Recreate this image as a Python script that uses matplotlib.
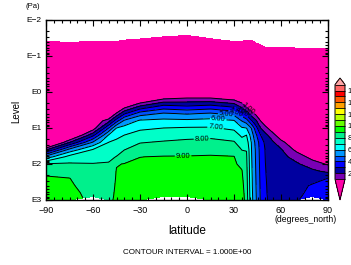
import numpy as np
import matplotlib
matplotlib.use("Agg")
import matplotlib.pyplot as plt
from matplotlib.colors import ListedColormap
from matplotlib.ticker import FixedLocator, MultipleLocator, FixedFormatter

plt.rcParams['font.family'] = ['Liberation Sans', 'DejaVu Sans']

# ---- data ----
lats = [-90, -75, -60, -50, -45, -40, -30, -15, 0, 15, 30, 35, 38, 41, 44, 47, 50, 55, 60, 70, 80, 90]
# log10(pressure / Pa) of the top of valid data for each latitude column
top_logp = [-1.40, -1.38, -1.40, -1.40, -1.40, -1.44, -1.47, -1.53, -1.57, -1.48, -1.40,
            -1.40, -1.44, -1.44, -1.36, -1.30, -1.24, -1.24, -1.24, -1.22, -1.20, -1.22]
# log10(pressure / Pa) of the remaining grid rows
row_logp = [-0.6, 0.0, 0.2, 0.4, 0.6, 0.8, 1.0, 1.2, 1.4, 1.6, 1.8, 2.0, 2.2, 2.4, 2.6, 2.8, 2.9, 3.0]

# field values per latitude column (top row first, then row_logp order)
col_m90 = [0, 0, 0, 0, 0, 0, 0, 0, 0, -1.8, 1.8, 5.4, 8.1, 8.8, 9.1, 9.3, 9.4, 9.5, 9.6]
col_m75 = [0, 0, 0, 0, 0, 0, 0, 0, -0.9, 1.96, 5.3, 7.4, 8.1, 8.6, 9.02, 9.15, 9.3, 9.35, 9.4]
col_m60 = [0, 0, 0, 0, 0, 0, 0, 0.33, 2.73, 5.13, 7.05, 7.6, 8.04, 8.2, 8.35, 8.5, 8.65, 8.7, np.nan]
col_m50 = [0, 0, 0, 0, 0, -0.8, 1.6, 4.0, 6.1, 7.02, 7.4, 7.8, 8.07, 8.2, 8.3, 8.45, 8.57, 8.63, 8.7]
col_m45 = [0, 0, 0, 0, -1.2, 1.2, 3.6, 6.0, 6.7, 7.24, 7.64, 8.03, 8.95, 9.05, 9.1, 9.15, 9.2, 9.22, 9.25]
col_m40 = [0, 0, 0, 0, 0.47, 2.87, 5.2, 6.36, 7.01, 7.49, 7.97, 8.57, 9.03, 9.15, 9.26, 9.37, 9.49, 9.55, 9.6]
col_m30 = [0, 0, 0, -0.3, 2.13, 4.53, 6.16, 6.82, 7.4, 7.95, 8.47, 8.99, 9.11, 9.23, 9.34, 9.46, 9.58, 9.64, 9.7]
col_m15 = [0, 0, -1.0, 1.07, 3.35, 5.12, 6.28, 7.0, 7.55, 8.1, 8.61, 9.04, 9.14, 9.26, 9.37, 9.47, 9.58, 9.64, np.nan]
col_0 = [0, 0, -0.5, 1.3, 3.1, 4.9, 6.23, 7.08, 7.68, 8.23, 8.71, 9.04, 9.15, 9.26, 9.37, 9.48, 9.59, 9.65, np.nan]
col_15 = [0, 0, -0.5, 1.3, 3.35, 5.12, 6.35, 7.09, 7.75, 8.29, 8.78, 9.06, 9.16, 9.27, 9.38, 9.48, 9.59, 9.65, 9.7]
col_30 = [0, 0, 0, 0.78, 2.8, 4.65, 6.08, 6.8, 7.47, 8.1, 8.61, 9.03, 9.13, 9.24, 9.36, 9.47, 9.59, 9.65, 9.7]
col_35 = [0, 0, 0, 0.23, 1.68, 3.4, 4.96, 6.1, 6.82, 7.42, 7.97, 8.38, 8.78, 9.06, 9.19, 9.33, 9.46, 9.53, 9.6]
col_38 = [0, 0, 0, 0, 0.85, 2.65, 4.45, 6.0, 7.01, 7.49, 7.97, 8.1, 8.17, 8.24, 8.31, 8.38, 8.44, 8.47, 8.5]
col_41 = [0, 0, 0, 0, -0.4, 1.4, 3.2, 5.0, 5.6, 6.02, 6.08, 6.13, 6.18, 6.23, 6.28, 6.3, 6.35, 6.38, 6.4]
col_44 = [0, 0, 0, 0, 0, 0.73, 2.16, 3.43, 4.2, 4.64, 4.83, 4.86, 4.9, 4.94, 4.98, 5.02, 5.06, 5.08, 5.1]
col_47 = [0, 0, 0, 0, 0, 0, 0.97, 2.0, 3.01, 3.52, 3.62, 3.66, 3.7, 3.74, 3.78, 3.82, 3.86, 3.88, 3.9]
col_50 = [0, 0, 0, 0, 0, 0, 0.25, 1.29, 2.3, 2.8, 2.95, 2.98, 3.01, 3.04, 3.07, 3.1, 3.12, 3.14, 3.15]
col_55 = [0, 0, 0, 0, 0, 0, 0, 0.3, 1.31, 2.1, 2.3, 2.41, 2.43, 2.46, 2.49, 2.52, 2.55, 2.58, 2.6]
col_60 = [0, 0, 0, 0, 0, 0, 0, 0, 0.32, 1.34, 2.08, 2.31, 2.43, 2.49, 2.54, 2.6, 2.65, 2.68, 2.7]
col_70 = [0, 0, 0, 0, 0, 0, 0, 0, 0, 0, 0.7, 1.6, 2.13, 2.4, 2.56, 2.69, 2.82, 2.88, 2.95]
col_80 = [0, 0, 0, 0, 0, 0, 0, 0, 0, 0, 0, 0.6, 1.5, 2.2, 2.65, 3.1, 3.2, 3.25, np.nan]
col_90 = [0, 0, 0, 0, 0, 0, 0, 0, 0, 0, 0, 0, 0.87, 1.78, 3.02, 3.22, 3.41, 3.5, 3.6]

columns = [col_m90, col_m75, col_m60, col_m50, col_m45, col_m40, col_m30, col_m15, col_0,
           col_15, col_30, col_35, col_38, col_41, col_44, col_47, col_50, col_55, col_60,
           col_70, col_80, col_90]

levels = list(range(1, 18))
fill_colors = ['#7A00B4', '#0000A0', '#0000FF', '#0050FF', '#0096FF', '#00FFFF', '#00FFC8',
               '#00F08C', '#00FF00', '#64FF00', '#B4FF00', '#FFFF00', '#FFA000', '#FF5A00',
               '#FF0000', '#FF6464']
under_color = '#FF00A8'
over_color = '#FFA6A6'
cbar_ticks = [2, 4, 6, 8, 10, 12, 14, 16]
ytick_pos = [-2, -1, 0, 1, 2, 3]
ytick_labels = ['E\u22122', 'E\u22121', 'E0', 'E1', 'E2', 'E3']
xticks = [-90, -60, -30, 0, 30, 60, 90]

# contour-label anchor points (latitude, log10 p)
label_pos = {9: (-2.5, 1.72), 8: (9.6, 1.33), 7: (17.9, 1.11), 6: (19.8, 0.83),
             5: (24.9, 0.75), 4: (30.0, 0.67), 3: (33.8, 0.61), 2: (37.0, 0.53),
             1: (40.2, 0.42)}

# ---- grid ----
Z = np.ma.masked_invalid(np.array(columns, dtype=float).T)
nrow, ncol = Z.shape
X = np.tile(np.array(lats, dtype=float), (nrow, 1))
Y = np.vstack([np.array(top_logp)[None, :],
               np.tile(np.array(row_logp)[:, None], (1, ncol))])

fig = plt.figure(figsize=(3.51, 2.65), dpi=100)
ax = fig.add_axes([46/351, 65/265, 282/351, 180/265])

cmap = ListedColormap(fill_colors)
cmap.set_under(under_color)
cmap.set_over(over_color)

cf = ax.contourf(X, Y, Z, levels=levels, cmap=cmap, extend='both')
ax.set_xlim(-90, 90)
ax.set_ylim(3, -2)

zmax = float(Z.max())
for lv in levels:
    if lv >= zmax:
        continue
    cs = ax.contour(X, Y, Z, levels=[lv], colors='k', linewidths=0.7)
    if lv in label_pos:
        cs.clabel(manual=[label_pos[lv]], fmt='%.2f', fontsize=5.5,
                  inline=True, inline_spacing=1)

ax.set_xticks(xticks)
ax.set_xticklabels([str(v).replace('-', '\u2212') for v in xticks])
ax.xaxis.set_minor_locator(MultipleLocator(5))
ax.yaxis.set_major_locator(FixedLocator(ytick_pos))
ax.yaxis.set_major_formatter(FixedFormatter(ytick_labels))
minor_y = [n + np.log10(k) for n in range(-2, 3) for k in range(2, 10)]
ax.yaxis.set_minor_locator(FixedLocator(minor_y))
ax.tick_params(which='both', direction='in', top=True, right=True, width=0.8)
ax.tick_params(which='major', length=4)
ax.tick_params(which='minor', length=2)
ax.tick_params(axis='x', pad=4, labelsize=6.5)
ax.tick_params(axis='y', pad=3, labelsize=6)
for s in ax.spines.values():
    s.set_linewidth(1.0)

fig.text(33/351, 1 - 7/265, '(Pa)', fontsize=5.5, ha='center', va='center')
fig.text(16/351, 1 - 111/265, 'Level', fontsize=7, rotation=90, ha='center', va='center')
fig.text(187/351, 1 - 231/265, 'latitude', fontsize=8.5, ha='center', va='center')
fig.text(306/351, 1 - 219/265, '(degrees_north)', fontsize=6.2, ha='center', va='center')
fig.text(187/351, 1 - 252.5/265, 'CONTOUR INTERVAL = 1.000E+00', fontsize=5.8,
         ha='center', va='center')

cax = fig.add_axes([335/351, 65/265, 10/351, 122/265])
cb = fig.colorbar(cf, cax=cax, extend='both', extendfrac=(0.22, 0.07),
                  drawedges=True, ticks=cbar_ticks)
cb.ax.tick_params(length=0, labelsize=5.5, pad=2)
cb.outline.set_linewidth(0.7)
cb.dividers.set_linewidth(0.6)

fig.savefig('out.png', dpi=100)
